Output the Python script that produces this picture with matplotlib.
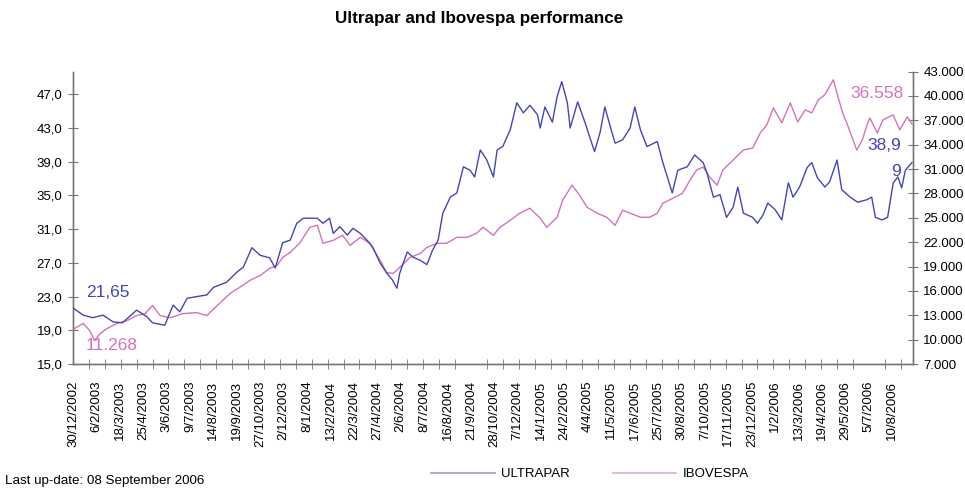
import matplotlib
matplotlib.use("Agg")
import matplotlib.pyplot as plt
from matplotlib.lines import Line2D
from matplotlib.ticker import FuncFormatter, MultipleLocator
import numpy as np

plt.rcParams['font.family'] = ['Liberation Sans', 'DejaVu Sans']

# trading-day index (0 = 30/12/2002) and closing values
ultra_day = [0, 11, 21, 32, 43, 53, 68, 79, 85, 98, 107, 114, 122, 132, 143, 150,
             164, 175, 182, 191, 200, 210, 216, 224, 232, 239, 246, 261, 267, 274,
             278, 285, 293, 299, 307, 314, 320, 328, 335, 341, 346, 349, 357, 363,
             371, 378, 384, 390, 395, 403, 410, 417, 424, 429, 435, 442, 449, 453,
             459, 467, 474, 481, 488, 496, 499, 504, 512, 517, 522, 528, 531, 539,
             547, 552, 557, 563, 568, 574, 579, 587, 595, 600, 606, 613, 624, 630,
             640, 646, 656, 664, 673, 677, 684, 691, 698, 705, 710, 716, 726, 731,
             737, 742, 750, 757, 764, 769, 776, 784, 789, 795, 803, 808, 816, 821,
             830, 838, 848, 853, 857, 864, 870, 876, 881, 885, 889, 896]
ultra_val = [21.65, 20.8, 20.5, 20.8, 20.0, 19.9, 21.4, 20.6, 19.9, 19.6, 22.0, 21.2,
             22.8, 23.0, 23.2, 24.1, 24.7, 25.9, 26.5, 28.8, 27.9, 27.6, 26.4, 29.4,
             29.7, 31.7, 32.3, 32.3, 31.7, 32.3, 30.5, 31.3, 30.3, 31.1, 30.5, 29.7,
             28.9, 27.0, 25.8, 25.0, 24.0, 25.8, 28.3, 27.7, 27.3, 26.8, 28.5, 29.7,
             32.9, 34.8, 35.3, 38.4, 38.0, 37.2, 40.4, 39.2, 37.2, 40.4, 40.8, 42.8,
             46.0, 44.8, 45.7, 44.6, 43.0, 45.5, 43.7, 46.7, 48.5, 46.0, 43.0, 46.1,
             43.6, 41.9, 40.2, 42.5, 45.5, 43.1, 41.2, 41.6, 43.0, 45.5, 42.8, 40.8,
             41.4, 38.9, 35.3, 38.0, 38.4, 39.8, 38.9, 37.7, 34.8, 35.1, 32.4, 33.6,
             36.0, 32.9, 32.4, 31.7, 32.7, 34.1, 33.3, 32.1, 36.5, 34.8, 36.0, 38.3,
             38.9, 37.1, 36.0, 36.6, 39.2, 35.7, 34.8, 34.2, 34.5, 34.8, 32.4, 32.1,
             32.4, 36.5, 37.2, 35.9, 38.0, 38.9]

ibov_day = [0, 11, 18, 23, 29, 36, 47, 58, 68, 77, 85, 93, 104, 117, 132, 143, 154,
            168, 178, 189, 200, 210, 218, 224, 232, 242, 253, 261, 267, 278, 288,
            296, 307, 317, 328, 335, 342, 349, 360, 371, 378, 389, 399, 410, 421,
            431, 438, 449, 456, 467, 477, 488, 499, 506, 517, 523, 533, 541, 549,
            560, 570, 579, 587, 595, 606, 616, 624, 630, 641, 651, 659, 666, 673,
            680, 688, 694, 705, 716, 726, 734, 741, 748, 757, 766, 774, 782, 789,
            796, 803, 812, 817, 822, 828, 837, 843, 848, 851, 859, 865, 876, 883,
            891, 896]
ibov_val = [11268, 12000, 11100, 9900, 10750, 11350, 12000, 12350, 12970, 13200,
            14200, 12970, 12700, 13200, 13340, 12970, 14200, 15700, 16440, 17300,
            17900, 18770, 19140, 20130, 20750, 21860, 23830, 24080, 21860, 22230,
            22850, 21610, 22600, 21860, 19760, 18280, 18150, 18890, 20130, 20620,
            21360, 21860, 21860, 22600, 22600, 23090, 23830, 22850, 23830, 24700,
            25560, 26180, 24950, 23830, 25070, 27170, 29020, 27790, 26300, 25560,
            25070, 24080, 25930, 25560, 25070, 25070, 25560, 26800, 27420, 28030,
            29640, 30880, 31250, 30010, 29020, 30880, 32110, 33340, 33590, 35440,
            36430, 38530, 36680, 39150, 36800, 38280, 37910, 39520, 40140, 41990,
            39890, 37910, 36180, 33340, 34580, 36430, 37290, 35440, 37050, 37660,
            35810, 37420, 36558]

# category labels shown every 25 trading days
date_labels = ['30/12/2002', '6/2/2003', '18/3/2003', '25/4/2003', '3/6/2003',
               '9/7/2003', '14/8/2003', '19/9/2003', '27/10/2003', '2/12/2003',
               '8/1/2004', '13/2/2004', '22/3/2004', '27/4/2004', '2/6/2004',
               '8/7/2004', '16/8/2004', '21/9/2004', '28/10/2004', '7/12/2004',
               '14/1/2005', '24/2/2005', '4/4/2005', '11/5/2005', '17/6/2005',
               '25/7/2005', '30/8/2005', '7/10/2005', '17/11/2005', '23/12/2005',
               '1/2/2006', '13/3/2006', '19/4/2006', '29/5/2006', '5/7/2006',
               '10/8/2006']
n_days = 897

blue = '#4646ae'
pink = '#d472bc'
axis_grey = '#777777'

fig = plt.figure(figsize=(9.65, 4.9), dpi=100)
ax = fig.add_axes([0.0756, 0.257, 0.8704, 0.597])
ax2 = ax.twinx()

ax.plot(ultra_day, ultra_val, color=blue, lw=1.0, zorder=3)
ax2.plot(ibov_day, ibov_val, color=pink, lw=1.0, zorder=2)
ax.set_zorder(ax2.get_zorder() + 1)
ax.patch.set_visible(False)

ax.set_xlim(0, n_days)
ax.set_ylim(15, 49.7)
ax2.set_ylim(7000, 43000)

ax.set_yticks(np.arange(15, 48, 4))
ax.yaxis.set_major_formatter(FuncFormatter(lambda v, p: f'{v:.1f}'.replace('.', ',')))
ax2.set_yticks(np.arange(7000, 43001, 3000))
ax2.yaxis.set_major_formatter(FuncFormatter(lambda v, p: f'{int(v):,}'.replace(',', '.')))

ax.set_xticks(np.arange(0, 25 * len(date_labels), 25))
ax.set_xticklabels(date_labels, rotation=90, fontsize=9.5, va='top')
ax.xaxis.set_minor_locator(MultipleLocator(17))
ax.tick_params(axis='x', which='major', length=0, pad=12)
ax.tick_params(axis='x', which='minor', length=7, direction='inout', color=axis_grey)
ax.tick_params(axis='y', length=7, direction='inout', color=axis_grey, labelsize=9.5, pad=4)
ax2.tick_params(axis='y', length=7, direction='inout', color=axis_grey, labelsize=9.5, pad=4)

for a in (ax, ax2):
    a.spines['top'].set_visible(False)
    for s in ('left', 'right', 'bottom'):
        a.spines[s].set_color(axis_grey)
        a.spines[s].set_linewidth(1.0)

# data labels for first and last values
label_style = dict(transform=fig.transFigure, fontsize=12.5, va='center', ha='left')
ax.text(86 / 965, 1 - 292 / 490, '21,65', color=blue, **label_style)
ax.text(86 / 965, 1 - 345 / 490, '11.268', color=pink, **label_style)
ax.text(850 / 965, 1 - 93 / 490, '36.558', color=pink, **label_style)
ax.text(867 / 965, 1 - 146 / 490, '38,9', color=blue, **label_style)
ax.text(891 / 965, 1 - 172 / 490, '9', color=blue, **label_style)

fig.suptitle('Ultrapar and Ibovespa performance', x=0.497, y=0.978, fontsize=12.3,
             fontweight='bold', va='top')

handles = [Line2D([], [], color='#9a9ad8', lw=1.2),
           Line2D([], [], color='#eaa6d4', lw=1.2)]
fig.legend(handles, ['ULTRAPAR', 'IBOVESPA'], loc='center', ncol=2,
           bbox_to_anchor=(590 / 965, 1 - 474 / 490), frameon=False,
           fontsize=9.5, handlelength=4.8, columnspacing=3.3, handletextpad=0.45)

fig.text(5 / 965, 1 - 481 / 490, 'Last up-date: 08 September 2006', fontsize=9.6,
         va='center', ha='left')

fig.savefig('out.png', dpi=100)
